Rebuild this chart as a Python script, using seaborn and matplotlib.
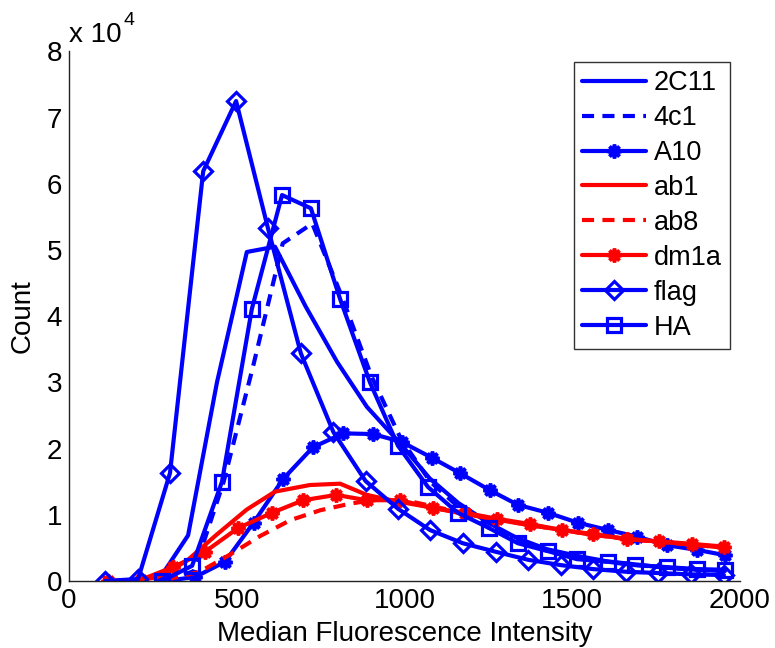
import matplotlib
matplotlib.use("Agg")
import matplotlib.pyplot as plt
import seaborn as sns
import numpy as np
from matplotlib.ticker import FuncFormatter

# ---- data (Median Fluorescence Intensity vs Count) ----
x_2c11 = [265, 355, 441, 530, 614, 705, 799, 888, 987, 1075, 1160, 1250, 1335, 1425, 1515, 1600, 1690, 1780, 1870, 1955]
y_2c11 = [0, 6900, 30000, 49700, 50500, 41500, 33100, 26300, 20800, 15500, 11800, 8800, 6500, 4800, 3800, 3000, 2500, 2000, 1700, 1500]

x_4c1 = [285, 373, 461, 549, 637, 725, 813, 901, 989, 1077, 1165, 1253, 1341, 1429, 1517, 1605, 1693, 1781, 1869, 1955]
y_4c1 = [0, 1500, 15000, 32500, 51000, 54000, 43000, 31000, 21500, 15000, 11000, 8000, 6000, 4500, 3600, 2900, 2400, 2000, 1700, 1500]

x_a10 = [285, 376, 465, 550, 638, 727, 817, 906, 992, 1082, 1165, 1255, 1338, 1428, 1517, 1607, 1693, 1782, 1872, 1955]
y_a10 = [0, 600, 2900, 8800, 15400, 20200, 22300, 22200, 21000, 18600, 16300, 13700, 11500, 10300, 8800, 7700, 6700, 5400, 4700, 3900]

x_ab1 = [170, 260, 350, 440, 530, 614, 718, 808, 888, 980, 1070, 1160, 1250, 1340, 1430, 1520, 1610, 1700, 1790, 1880, 1955]
y_ab1 = [0, 500, 3000, 7000, 10800, 13500, 14500, 14700, 13000, 12000, 11200, 10300, 9500, 8700, 8000, 7300, 6700, 6200, 5800, 5400, 5000]

x_ab8 = [290, 390, 480, 570, 660, 750, 840, 930, 1020, 1110, 1200, 1290, 1380, 1470, 1560, 1650, 1740, 1830, 1920, 1955]
y_ab8 = [200, 1400, 4000, 6800, 9200, 10700, 11700, 12400, 12000, 11000, 10000, 9200, 8400, 7700, 7000, 6400, 6000, 5600, 5200, 5000]

x_dm1a = [117, 215, 310, 405, 504, 605, 698, 796, 888, 987, 1085, 1180, 1276, 1374, 1469, 1562, 1663, 1759, 1857, 1952]
y_dm1a = [0, 200, 2100, 4400, 8000, 10300, 12200, 13000, 12200, 12200, 11000, 10300, 9400, 8600, 7700, 7100, 6300, 6000, 5600, 5200]

x_flag = [107, 206, 301, 400, 498, 593, 691, 788, 884, 981, 1076, 1174, 1273, 1369, 1466, 1562, 1660, 1757, 1855, 1952]
y_flag = [0, 300, 16300, 61900, 72500, 53300, 34400, 22500, 15100, 10900, 7700, 5700, 4400, 3200, 2400, 1800, 1400, 1200, 1000, 900]

x_ha = [277, 367, 456, 545, 635, 721, 808, 897, 981, 1070, 1159, 1252, 1338, 1428, 1514, 1607, 1687, 1782, 1872, 1955]
y_ha = [0, 2300, 15000, 41100, 58300, 56300, 42600, 30000, 20400, 14200, 10300, 8000, 5700, 4500, 3300, 2900, 2400, 2100, 1800, 1700]

x_ticks = [0, 500, 1000, 1500, 2000]
y_ticks = [0, 10000, 20000, 30000, 40000, 50000, 60000, 70000, 80000]

BLUE = (0, 0, 1)
RED = (1, 0, 0)
ASTER = (8, 2, 0)

series = [
    ("2C11", x_2c11, y_2c11, BLUE, "-", None),
    ("4c1", x_4c1, y_4c1, BLUE, (0, (2.9, 2.0)), None),
    ("A10", x_a10, y_a10, BLUE, "-", ASTER),
    ("ab1", x_ab1, y_ab1, RED, "-", None),
    ("ab8", x_ab8, y_ab8, RED, (0, (2.9, 2.0)), None),
    ("dm1a", x_dm1a, y_dm1a, RED, "-", ASTER),
    ("flag", x_flag, y_flag, BLUE, "-", "D"),
    ("HA", x_ha, y_ha, BLUE, "-", "s"),
]

sns.set_style("white")
plt.rcParams["font.family"] = ["Liberation Sans", "DejaVu Sans"]
plt.rcParams["text.color"] = "black"
plt.rcParams["axes.labelcolor"] = "black"

fig = plt.figure(figsize=(7.75, 6.48), dpi=100)
ax = fig.add_axes([69 / 775, 1 - 581 / 648, 671 / 775, 529.6 / 648])

msizes = {"D": 9.5, "s": 9.5, ASTER: 10.0}
for name, xs, ys, col, ls, mk in series:
    kws = dict(color=col, linewidth=3, linestyle=ls, label=name)
    if mk is not None:
        kws.update(marker=mk, markersize=msizes[mk], markeredgecolor=col,
                   markeredgewidth=(2.6 if mk == ASTER else 2.3),
                   markerfacecolor=("none" if mk in ("D", "s") else col))
    sns.lineplot(x=xs, y=ys, ax=ax, sort=False, estimator=None, **kws)

ax.set_xlim(0, 2000)
ax.set_ylim(0, 80000)
ax.set_xticks(x_ticks)
ax.set_yticks(y_ticks)
ax.yaxis.set_major_formatter(FuncFormatter(lambda v, p: f"{v / 1e4:g}"))
ax.tick_params(direction="in", length=6, width=1, labelsize=20, colors="#222222",
               labelcolor="black")
ax.tick_params(axis="y", pad=5)
ax.tick_params(axis="x", pad=5)
for side in ("top", "right"):
    ax.spines[side].set_visible(False)
for side in ("left", "bottom"):
    ax.spines[side].set_color("#222222")
    ax.spines[side].set_linewidth(1)

ax.set_xlabel("Median Fluorescence Intensity", fontsize=20, labelpad=5, color="black")
ax.set_ylabel("Count", fontsize=20, labelpad=8, color="black")

fig.text(69 / 775, 1 - 42 / 648, "x 10", fontsize=20, ha="left", va="baseline", color="black")
fig.text(123 / 775, 1 - 25 / 648, "4", fontsize=14, ha="left", va="baseline", color="black")

leg = ax.legend(loc="upper right", bbox_to_anchor=(0.985, 0.98), borderaxespad=0,
                frameon=True, fancybox=False, edgecolor="black", fontsize=19.5,
                handlelength=2.35, handletextpad=0.3, labelspacing=0.33,
                borderpad=0.3, numpoints=1)
leg.get_frame().set_linewidth(1.0)
for t in leg.get_texts():
    t.set_color("black")

fig.savefig("out.png", dpi=100, facecolor="white")
